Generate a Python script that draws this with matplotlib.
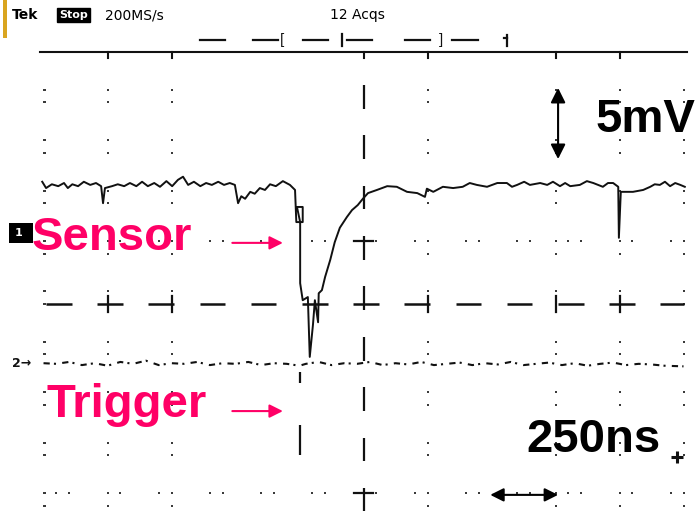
import matplotlib.pyplot as plt
from matplotlib.patches import Rectangle

# Scope screen: 10 x 8 divisions, centre of screen = (0, 0), units are divisions
# CH1 (sensor) trace
sensor_t = [-5.02, -4.96, -4.87, -4.77, -4.68, -4.62, -4.55, -4.46, -4.37, -4.27,
            -4.18, -4.10, -4.07, -4.04, -3.93, -3.84, -3.74, -3.65, -3.55, -3.46,
            -3.37, -3.27, -3.18, -3.08, -2.99, -2.90, -2.82, -2.74, -2.65, -2.55,
            -2.46, -2.37, -2.27, -2.18, -2.09, -2.01, -1.96, -1.91, -1.85, -1.77,
            -1.70, -1.62, -1.54, -1.46, -1.37, -1.26, -1.15, -1.07, -1.05, -0.95,
            -0.95, -1.04, -0.99, -0.99, -0.95, -0.87, -0.84, -0.79, -0.76, -0.71,
            -0.70, -0.65, -0.60, -0.52, -0.45, -0.37, -0.26, -0.18, -0.09, -0.01,
            0.07, 0.21, 0.37, 0.52, 0.68, 0.84, 0.96, 0.99, 1.09, 1.24,
            1.40, 1.55, 1.66, 1.77, 1.93, 2.09, 2.24, 2.32, 2.40, 2.51,
            2.60, 2.76, 2.87, 2.96, 3.07, 3.15, 3.23, 3.38, 3.49, 3.59,
            3.74, 3.82, 3.90, 3.98, 3.99, 4.02, 4.21, 4.37, 4.48, 4.55,
            4.63, 4.71, 4.79, 4.87, 4.95, 5.02]
sensor_v = [1.94, 1.84, 1.90, 1.87, 1.92, 1.84, 1.90, 1.87, 1.94, 1.89,
            1.92, 1.87, 1.60, 1.84, 1.87, 1.90, 1.87, 1.92, 1.87, 1.94,
            1.87, 1.92, 1.86, 1.95, 1.87, 1.97, 2.02, 1.89, 1.94, 1.87,
            1.92, 1.89, 1.94, 1.89, 1.92, 1.89, 1.60, 1.71, 1.67, 1.78,
            1.75, 1.84, 1.81, 1.90, 1.87, 1.95, 1.89, 1.81, 1.30, 1.30,
            1.54, 1.54, 1.30, 0.33, 0.06, 0.11, -0.84, -0.33, 0.06, -0.29,
            0.17, 0.22, 0.43, 0.70, 0.98, 1.21, 1.38, 1.49, 1.57, 1.67,
            1.76, 1.81, 1.87, 1.86, 1.78, 1.76, 1.70, 1.83, 1.78, 1.86,
            1.84, 1.86, 1.92, 1.89, 1.86, 1.92, 1.92, 1.86, 1.89, 1.94,
            1.89, 1.92, 1.89, 1.94, 1.87, 1.92, 1.87, 1.89, 1.95, 1.92,
            1.86, 1.92, 1.92, 1.86, 1.05, 1.78, 1.78, 1.81, 1.86, 1.90,
            1.89, 1.94, 1.87, 1.92, 1.89, 1.86]

# CH2 (trigger) trace
trigger_t = [-5.0, -4.8, -4.6, -4.4, -4.2, -4.0, -3.8, -3.6, -3.4, -3.2,
             -3.0, -2.8, -2.6, -2.4, -2.2, -2.0, -1.8, -1.6, -1.4, -1.2,
             -1.0, -0.9, -0.7, -0.5, -0.3, -0.1, 0.1, 0.3, 0.5, 0.7,
             0.9, 1.1, 1.3, 1.5, 1.7, 1.9, 2.1, 2.3, 2.5, 2.7,
             2.9, 3.1, 3.3, 3.5, 3.7, 3.9, 4.1, 4.3, 4.5, 4.7, 5.0]
trigger_v = [-0.94, -0.95, -0.92, -0.97, -0.94, -0.98, -0.92, -0.95, -0.90, -0.97,
             -0.94, -0.95, -0.92, -0.97, -0.94, -0.95, -0.92, -0.97, -0.94, -0.95,
             -0.98, -0.95, -0.92, -0.97, -0.94, -0.95, -0.92, -0.97, -0.94, -0.96,
             -0.92, -0.97, -0.95, -0.93, -0.97, -0.94, -0.96, -0.92, -0.97, -0.95,
             -0.93, -0.97, -0.94, -0.98, -0.95, -0.93, -0.97, -0.95, -0.96, -0.98, -0.99]
# fast trigger edge, drawn as broken vertical pieces
edge_t = [-0.99, -0.99]
edge_lo = [-1.25, -2.40]
edge_hi = [-1.08, -1.92]

pink = "#FF0066"
ink = "#111111"
dot = "#3a3a3a"

plt.rcParams["font.family"] = ["Liberation Sans", "DejaVu Sans"]

fig = plt.figure(figsize=(6.96, 5.11), dpi=100)
ax = fig.add_axes([0, 0, 1, 1])
ax.set_xlim(-5.680, 5.195)
ax.set_ylim(-3.286, 4.825)
ax.axis("off")

# graticule (only the dots that survived the screenshot scaling)
minor = [round(0.8 * k + d, 2) for k in range(-7, 8) for d in (0.0, 0.2)]
cols = [-5, -4, -3, 1, 3, 4, 5]
for c in cols:
    ys = [m for m in minor if -3.3 < m < 3.5]
    ax.plot([c] * len(ys), ys, ls="none", marker="s", ms=1.7, color=dot, mew=0)
    if c == -5:
        ax.plot([c + 0.03] * len(ys), ys, ls="none", marker="s", ms=1.7, color=dot, mew=0)
for r in [1, -3]:
    xs = [m for m in minor if -5.0 <= m <= 5.0]
    ax.plot(xs, [r] * len(xs), ls="none", marker="s", ms=1.7, color=dot, mew=0)

# centre cross-hair lines (dashed)
for k in range(-7, 8):
    a, b = max(0.8 * k - 0.16, -4.96), min(0.8 * k + 0.24, 5.0)
    if a < b:
        ax.plot([a, b], [0, 0], color=ink, lw=1.8, solid_capstyle="butt")
for k in range(-4, 5):
    ax.plot([0, 0], [0.8 * k - 0.10, 0.8 * k + 0.28], color=ink, lw=1.6,
            solid_capstyle="butt")
for c in [-4, -3, 1, 3, 4]:
    ax.plot([c, c], [-0.13, 0.13], color=ink, lw=1.6)
for r in [1, -3]:
    ax.plot([-0.15, 0.15], [r, r], color=ink, lw=1.6)

# top border with ticks
ax.plot([-5.05, 5.05], [4, 4], color=ink, lw=1.5)
for c in [-4, -3, 0, 1, 3, 4]:
    ax.plot([c, c], [4, 3.91], color=ink, lw=1.5)

# traces
ax.plot(sensor_t, sensor_v, color=ink, lw=1.4)
ax.plot(trigger_t, trigger_v, color=ink, lw=1.5, ls=(0, (3, 2, 1, 3)))
ax.vlines(edge_t, edge_lo, edge_hi, color=ink, lw=1.6)

# record view bar under the header
for a, b in [(-2.55, -2.16), (-1.73, -1.34), (-0.95, -0.56), (-0.26, 0.13),
             (0.65, 1.04), (1.38, 1.79)]:
    ax.plot([a, b], [4.19, 4.19], color=ink, lw=1.6)
ax.text(-1.27, 4.19, "[", fontsize=11, va="center", ha="center", color=ink)
ax.text(1.21, 4.19, "]", fontsize=11, va="center", ha="center", color=ink)
ax.plot([-0.34, -0.34], [4.09, 4.29], color=ink, lw=1.6)
ax.plot([2.24, 2.24], [4.09, 4.27], color=ink, lw=1.6)
ax.plot([2.20, 2.24], [4.22, 4.22], color=ink, lw=1.6)

# header
ax.add_patch(Rectangle((-5.633, 4.222), 0.063, 0.603, color="#D9A520", lw=0))
fig.text(12 / 696, 1 - 15 / 511, "Tek", fontsize=10, fontweight="bold",
         va="center", family="DejaVu Sans")
fig.text(59 / 696, 1 - 15 / 511, "Stop", fontsize=8, fontweight="bold", color="white",
         va="center", family="DejaVu Sans",
         bbox=dict(facecolor="black", edgecolor="black", pad=1.5))
fig.text(105 / 696, 1 - 15 / 511, "200MS/s", fontsize=10, va="center",
         family="DejaVu Sans")
fig.text(330 / 696, 1 - 15 / 511, "12 Acqs", fontsize=10, va="center",
         family="DejaVu Sans")

# channel markers
ax.add_patch(Rectangle((-5.54, 0.97), 0.37, 0.32, color="black", lw=0))
ax.text(-5.45, 1.13, "1", color="white", fontsize=8, fontweight="bold",
        va="center", family="DejaVu Sans")
ax.text(-5.50, -0.94, "2\u2192", color=ink, fontsize=9, fontweight="bold",
        va="center", family="DejaVu Sans")
ax.plot([4.90], [-2.43], marker="+", ms=8, mew=2.2, color=ink)

# annotations
big = dict(fontsize=34, fontweight="bold", va="baseline", ha="left")
ax.text(-5.19, 0.86, "Sensor", color=pink, **big)
ax.text(-4.96, -1.79, "Trigger", color=pink, **big)
ax.text(3.62, 2.73, "5mV", color="black", **big)
ax.text(2.55, -2.35, "250ns", color="black", **big)

for y in [0.97, -1.70]:
    ax.annotate("", xy=(-1.26, y), xytext=(-2.05, y),
                arrowprops=dict(arrowstyle="-|>", color=pink, lw=1.5,
                                mutation_scale=20, shrinkA=0, shrinkB=0))
ax.annotate("", xy=(3.04, 3.43), xytext=(3.04, 2.30),
            arrowprops=dict(arrowstyle="<|-|>", color="black", lw=1.5,
                            mutation_scale=22, shrinkA=0, shrinkB=0))
ax.annotate("", xy=(3.04, -3.03), xytext=(1.98, -3.03),
            arrowprops=dict(arrowstyle="<|-|>", color="black", lw=1.5,
                            mutation_scale=20, shrinkA=0, shrinkB=0))

fig.savefig("out.png", dpi=100, facecolor="white")
